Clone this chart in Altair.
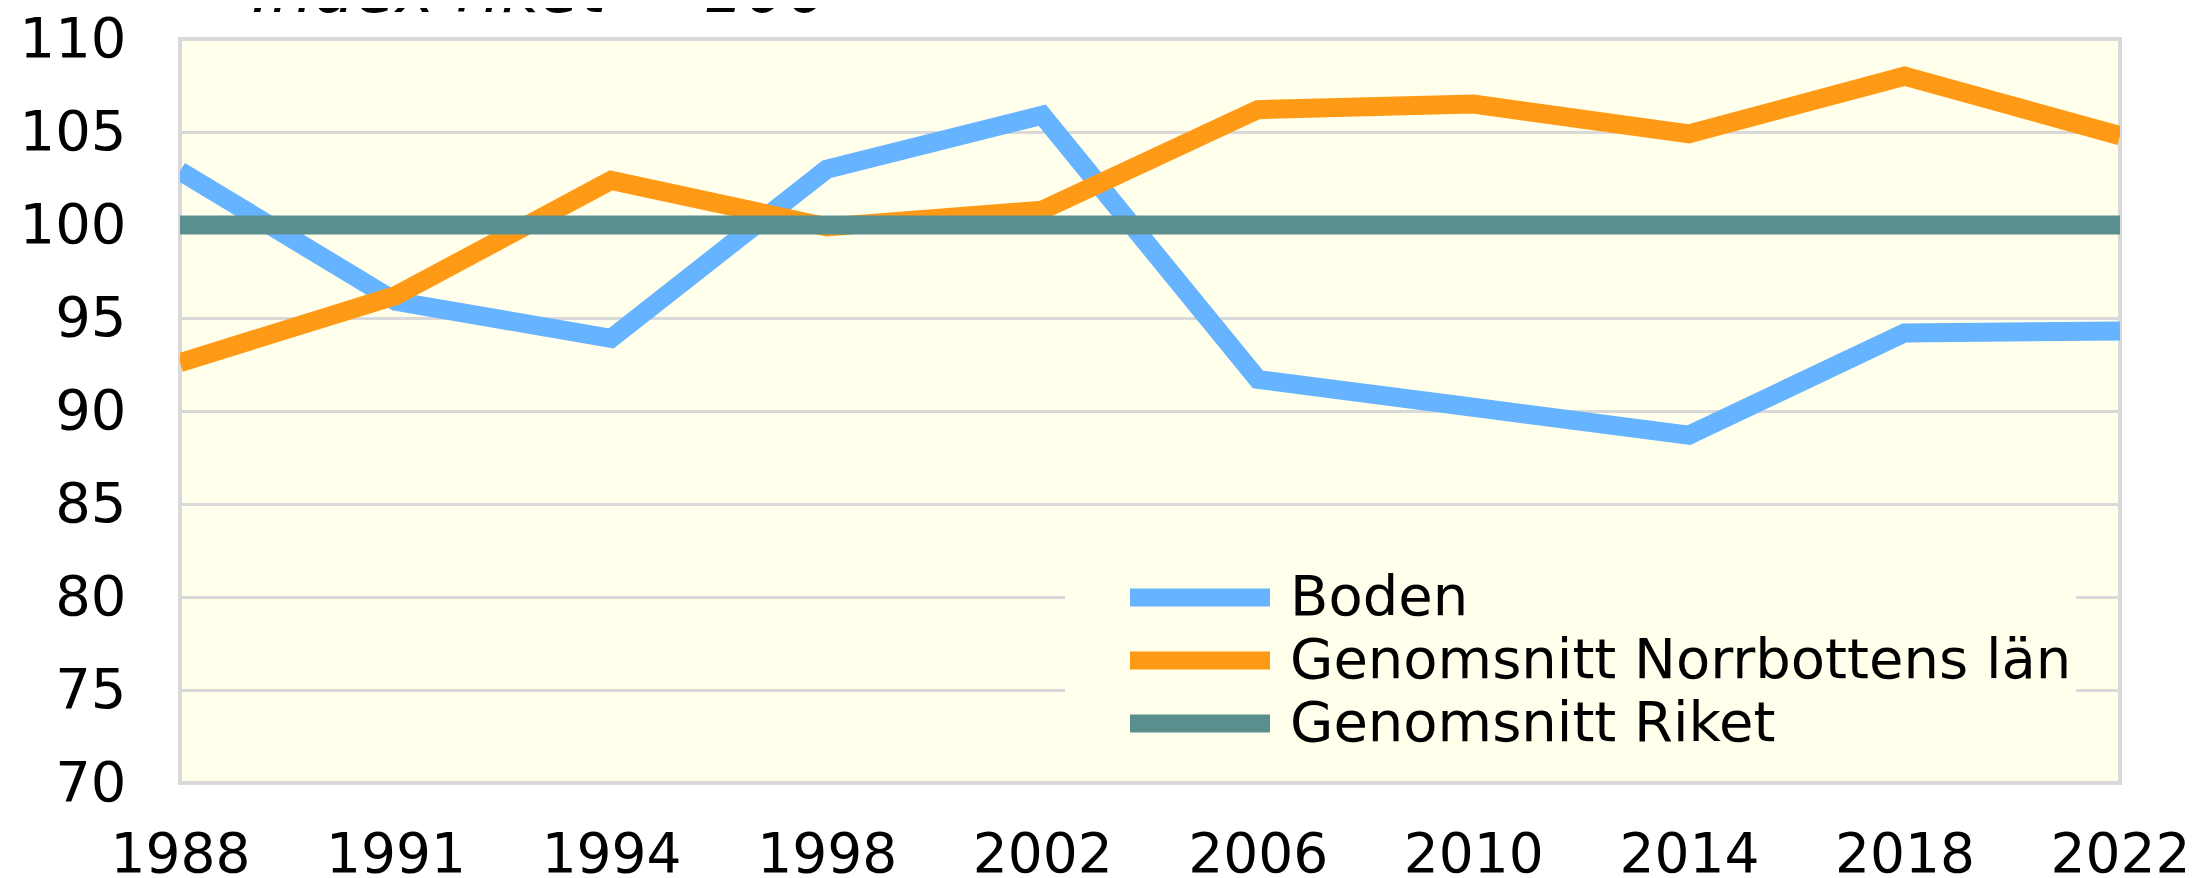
import altair as alt
import pandas as pd

years = ["1988", "1991", "1994", "1998", "2002", "2006", "2010", "2014", "2018", "2022"]
boden = [102.9, 95.9, 93.9, 103.0, 105.9, 91.7, 90.2, 88.7, 94.2, 94.3]
norrbotten = [92.6, 96.2, 102.4, 99.9, 100.8, 106.2, 106.5, 104.9, 108.0, 104.8]
riket = [100.0, 100.0, 100.0, 100.0, 100.0, 100.0, 100.0, 100.0, 100.0, 100.0]
series_names = ["Boden", "Genomsnitt Norrbottens län", "Genomsnitt Riket"]
series_colors = ["#66B3FF", "#FF9A17", "#5B8F8F"]
y_ticks = [70, 75, 80, 85, 90, 95, 100, 105, 110]
title_text = ["Index riket = 100"]

rows = []
for name, vals in zip(series_names, [boden, norrbotten, riket]):
    for i, (yr, v) in enumerate(zip(years, vals)):
        rows.append({"year": yr, "value": v, "serie": name, "order": i})
df = pd.DataFrame(rows)
title_df = pd.DataFrame({"t": title_text})

FONT = "DejaVu Sans"

lines = alt.Chart(df).mark_line(
    strokeWidth=19, clip=True, strokeCap="butt", strokeJoin="miter"
).encode(
    x=alt.X("year:O", sort=years, scale=alt.Scale(type="point", padding=0),
            axis=alt.Axis(title=None, labelAngle=0, labelBaseline="alphabetic",
                          labelPadding=88, labelFontSize=55)),
    y=alt.Y("value:Q", scale=alt.Scale(domain=[70, 110], nice=False, zero=False),
            axis=alt.Axis(title=None, values=y_ticks, labelPadding=54, labelFontSize=56)),
    color=alt.Color("serie:N",
                    scale=alt.Scale(domain=series_names, range=series_colors),
                    legend=alt.Legend(title=None, orient="none", legendX=885, legendY=523,
                                      symbolType="stroke", symbolSize=19600,
                                      symbolStrokeWidth=18, symbolOffset=52,
                                      labelFontSize=56, labelFont=FONT,
                                      labelOffset=11, rowPadding=0, clipHeight=63,
                                      padding=4, fillColor="#FFFFEB",
                                      labelLimit=2000)),
    order="order:Q",
)

title_mark = alt.Chart(title_df).mark_text(
    align="left", baseline="alphabetic", fontSize=66, fontStyle="italic",
    font=FONT, color="#000000", clip=False
).encode(
    text="t:N",
    x=alt.value(72),
    y=alt.value(-27),
)

chart = alt.layer(lines, title_mark).properties(
    width=1940,
    height=744,
    autosize=alt.AutoSizeParams(type="none"),
    padding={"left": 172, "top": 31, "right": 65, "bottom": 93},
).configure_view(
    fill="#FFFFEB", stroke="#D9D9D9", strokeWidth=4
).configure_axis(
    domain=False, ticks=False, tickSize=0, labelFont=FONT, labelColor="#000000",
    gridColor="#D9D9D9", gridWidth=3, gridOpacity=1
)

chart.save("out.html", embed_options={"renderer": "svg", "actions": False})
